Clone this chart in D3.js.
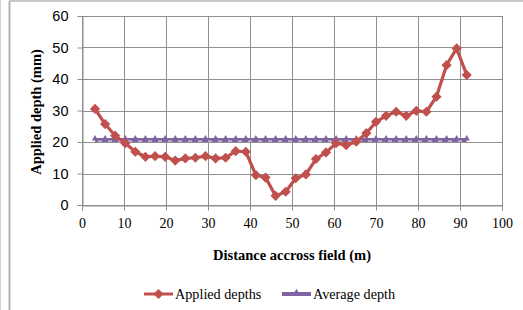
<!DOCTYPE html>
<html>
<head>
<meta charset="utf-8">
<script src="https://cdn.jsdelivr.net/npm/d3@7"></script>
<style>
  body { margin: 0; background: #fff; }
  svg { display: block; }
  .ytick text { font-family: "Liberation Sans", Arial, sans-serif; font-size: 14.5px; fill: #000; }
  .xtick text { font-family: "Liberation Serif", "Times New Roman", serif; font-size: 14px; fill: #000; }
  .title { font-family: "Liberation Serif", "Times New Roman", serif; font-size: 14.5px; font-weight: bold; }
  .legend text { font-family: "Liberation Serif", "Times New Roman", serif; font-size: 14.2px; }
</style>
</head>
<body>
<script>
// distance across field (m)
var distance = [3.1, 5.5, 7.9, 10.3, 12.7, 15.1, 17.4, 19.8, 22.2, 24.6,
                27.0, 29.4, 31.8, 34.2, 36.6, 39.0, 41.4, 43.7, 46.1, 48.5,
                50.9, 53.3, 55.7, 58.1, 60.5, 62.9, 65.3, 67.7, 70.0, 72.4,
                74.8, 77.2, 79.6, 82.0, 84.4, 86.8, 89.2, 91.6];
// applied depths (mm)
var appliedDepths = [30.5, 25.7, 22.0, 19.6, 16.9, 15.3, 15.5, 15.3, 14.1, 14.8,
                     15.0, 15.5, 14.8, 15.0, 17.1, 16.9, 9.5, 8.7, 2.9, 4.2,
                     8.5, 9.7, 14.6, 16.7, 19.6, 19.0, 20.1, 22.8, 26.4, 28.3,
                     29.6, 28.3, 29.9, 29.6, 34.4, 44.4, 49.7, 41.3];
// average depth (mm)
var averageDepth = [20.6, 20.6, 20.6, 20.6, 20.6, 20.6, 20.6, 20.6, 20.6, 20.6,
                    20.6, 20.6, 20.6, 20.6, 20.6, 20.6, 20.6, 20.6, 20.6, 20.6,
                    20.6, 20.6, 20.6, 20.6, 20.6, 20.6, 20.6, 20.6, 20.6, 20.6,
                    20.6, 20.6, 20.6, 20.6, 20.6, 20.6, 20.6, 20.6];
var xTicks = [0, 10, 20, 30, 40, 50, 60, 70, 80, 90, 100];
var yTicks = [0, 10, 20, 30, 40, 50, 60];
var seriesNames = ["Applied depths", "Average depth"];

var W = 523, H = 310;
var red = "#C0504D", purple = "#8064A2", grid = "#8f8f8f";

var svg = d3.select("body").append("svg").attr("width", W).attr("height", H);

// outer frame lines
svg.append("line").attr("x1", 0.5).attr("x2", 0.5).attr("y1", 0).attr("y2", H)
   .attr("stroke", "#d0d0d0").attr("stroke-width", 1);
svg.append("line").attr("x1", 9.5).attr("x2", 9.5).attr("y1", 1).attr("y2", H)
   .attr("stroke", "#b4b4b4").attr("stroke-width", 2);
svg.append("line").attr("x1", 9).attr("x2", W).attr("y1", 1).attr("y2", 1)
   .attr("stroke", "#b4b4b4").attr("stroke-width", 1.5);

var x = d3.scaleLinear().domain([0, 100]).range([82, 502]);
var y = d3.scaleLinear().domain([0, 60]).range([205, 16]);

// gridlines
svg.append("g").selectAll("line.h").data(yTicks).enter().append("line")
   .attr("x1", x(0)).attr("x2", x(100))
   .attr("y1", function(d) { return Math.round(y(d)) + 0.5; })
   .attr("y2", function(d) { return Math.round(y(d)) + 0.5; })
   .attr("stroke", grid).attr("stroke-width", 1);
svg.append("g").selectAll("line.v").data(xTicks).enter().append("line")
   .attr("x1", function(d) { return Math.round(x(d)) + 0.5; })
   .attr("x2", function(d) { return Math.round(x(d)) + 0.5; })
   .attr("y1", y(60)).attr("y2", y(0))
   .attr("stroke", grid).attr("stroke-width", 1);

// axes
var xAxis = svg.append("g").attr("class", "xtick")
   .attr("transform", "translate(0," + (Math.round(y(0)) + 0.5) + ")")
   .call(d3.axisBottom(x).tickValues(xTicks).tickSize(5).tickPadding(8));
var yAxis = svg.append("g").attr("class", "ytick")
   .attr("transform", "translate(" + (Math.round(x(0)) + 0.5) + ",0)")
   .call(d3.axisLeft(y).tickValues(yTicks).tickSize(5).tickPadding(9));
[xAxis, yAxis].forEach(function(a) {
  a.select(".domain").attr("stroke", grid);
  a.selectAll(".tick line").attr("stroke", grid);
});
xAxis.selectAll(".tick line").attr("y1", -4);

// titles
svg.append("text").attr("class", "title")
   .attr("x", 292).attr("y", 260).attr("text-anchor", "middle")
   .text("Distance accross field (m)");
svg.append("text").attr("class", "title")
   .attr("transform", "translate(41,112) rotate(-90)").attr("text-anchor", "middle")
   .text("Applied depth (mm)");

var appliedPts = distance.map(function(d, i) { return [d, appliedDepths[i]]; });
var averagePts = distance.map(function(d, i) { return [d, averageDepth[i]]; });
var line = d3.line().x(function(d) { return x(d[0]); }).y(function(d) { return y(d[1]); });

var diamond = d3.symbol().type(d3.symbolSquare).size(52);
var tri = d3.symbol().type(d3.symbolTriangle).size(18);

// average depth series
svg.append("path").datum(averagePts).attr("d", line)
   .attr("fill", "none").attr("stroke", purple).attr("stroke-width", 4);
svg.append("g").selectAll("path").data(averagePts).enter().append("path")
   .attr("d", tri)
   .attr("transform", function(d) { return "translate(" + x(d[0]) + "," + (y(d[1]) - 1.5) + ")"; })
   .attr("fill", purple);
svg.append("path").datum(averagePts)
   .attr("d", d3.line().x(function(d) { return x(d[0]); }).y(function(d) { return y(d[1]) + 1; }))
   .attr("fill", "none").attr("stroke", "#fff").attr("stroke-width", 1)
   .attr("stroke-dasharray", "4,6").attr("stroke-dashoffset", -3).attr("opacity", 0.85);

// applied depths series
svg.append("path").datum(appliedPts).attr("d", line)
   .attr("fill", "none").attr("stroke", red).attr("stroke-width", 3.2)
   .attr("stroke-linejoin", "round");
svg.append("g").selectAll("path").data(appliedPts).enter().append("path")
   .attr("d", diamond)
   .attr("transform", function(d) { return "translate(" + x(d[0]) + "," + y(d[1]) + ") rotate(45)"; })
   .attr("fill", red);

// legend
var legend = svg.append("g").attr("class", "legend");
var legX = [144, 282];
seriesNames.forEach(function(name, i) {
  var lx = legX[i], ly = 294;
  var c = i === 0 ? red : purple;
  legend.append("line").attr("x1", lx).attr("x2", lx + 29).attr("y1", ly).attr("y2", ly)
        .attr("stroke", c).attr("stroke-width", i === 0 ? 3 : 4);
  legend.append("path")
        .attr("d", i === 0 ? diamond : tri)
        .attr("transform", "translate(" + (lx + 14.5) + "," + (i === 0 ? ly : ly - 1.5) + ")" + (i === 0 ? " rotate(45)" : ""))
        .attr("fill", c);
  legend.append("text").attr("x", lx + 31).attr("y", ly + 4.5).text(name);
});
</script>
</body>
</html>
